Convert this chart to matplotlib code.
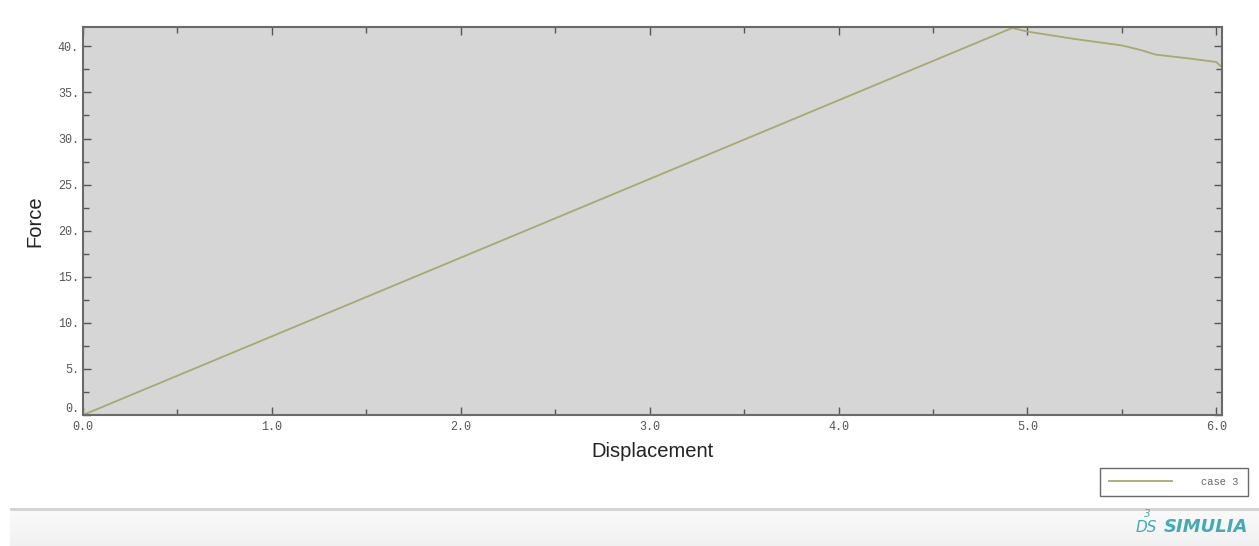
import numpy as np
import matplotlib
matplotlib.use("Agg")
import matplotlib.pyplot as plt
from matplotlib.ticker import MultipleLocator, FuncFormatter

# Force-displacement response, case 3
displacement = [0.0, 4.92, 5.0, 5.25, 5.5, 5.6, 5.68, 5.85, 6.0, 6.02]
force = [0.0, 42.0, 41.6, 40.8, 40.1, 39.6, 39.1, 38.7, 38.3, 37.9]
series_label = "case 3"

x_ticks = [0.0, 1.0, 2.0, 3.0, 4.0, 5.0, 6.0]
y_ticks = [0, 5, 10, 15, 20, 25, 30, 35, 40]

fig = plt.figure(figsize=(12.59, 5.46), dpi=100)
fig.patch.set_facecolor("white")

ax = fig.add_axes([83 / 1259, 1 - 415 / 546, 1139 / 1259, 388 / 546])
ax.set_facecolor("#d6d6d6")
line, = ax.plot(displacement, force, color="#a8a870", lw=1.3, label=series_label)

ax.set_xlim(0.0, 6.03)
ax.set_ylim(0.0, 42.1)
ax.set_xticks(x_ticks)
ax.set_yticks(y_ticks)
ax.xaxis.set_minor_locator(MultipleLocator(0.5))
ax.yaxis.set_minor_locator(MultipleLocator(2.5))
ax.xaxis.set_major_formatter(FuncFormatter(lambda v, p: f"{v:.1f}"))
ax.yaxis.set_major_formatter(FuncFormatter(lambda v, p: f"{int(round(v))}."))

for lab in ax.get_xticklabels() + ax.get_yticklabels():
    lab.set_fontfamily("Liberation Mono")
    lab.set_fontsize(8.5)
    lab.set_color("#555555")
# nudge the zero label upward as in the plot frame
ax.get_yticklabels()[0].set_verticalalignment("bottom")

ax.tick_params(which="both", direction="in", top=True, right=True,
               color="#555555", width=1.0)
ax.tick_params(which="major", length=6)
ax.tick_params(axis="x", which="major", pad=4)
ax.tick_params(axis="y", which="major", pad=3)
ax.tick_params(which="minor", length=4)
for sp in ax.spines.values():
    sp.set_color("#6a6a6a")
    sp.set_linewidth(1.5)

ax.set_xlabel("Displacement", fontsize=14.5, family="Liberation Sans",
              color="#222222", labelpad=7)
ax.set_ylabel("Force", fontsize=14.5, family="Liberation Sans",
              color="#222222", labelpad=10)

# Legend box
leg = fig.legend(handles=[line], loc="center",
                 bbox_to_anchor=(1174 / 1259, 1 - 482 / 546),
                 frameon=True, fancybox=False, edgecolor="#444444",
                 prop={"family": "Liberation Mono", "size": 7.5},
                 handlelength=6.0, handletextpad=2.8, borderpad=0.9,
                 borderaxespad=0, labelcolor="#666666")
leg.get_frame().set_linewidth(1.0)

# Bottom banner with a soft vertical gradient
banner = fig.add_axes([10 / 1259, 0, 1249 / 1259, 38 / 546])
grad = np.linspace(0.0, 1.0, 64).reshape(-1, 1)
banner.imshow(grad, aspect="auto", cmap="Greys", vmin=-0.5, vmax=12,
              extent=[0, 1, 0, 1], origin="upper")
banner.set_xlim(0, 1)
banner.set_ylim(0, 1)
banner.axhline(0.985, color="#d2d2d2", lw=2)
banner.axis("off")

fig.text(1206 / 1259, 1 - 527 / 546, "SIMULIA", color="#45aab2",
         fontsize=13, fontstyle="italic", fontweight="semibold",
         family="DejaVu Sans", ha="center", va="center")
fig.text(1146 / 1259, 1 - 528 / 546, "DS", color="#45aab2",
         fontsize=11, fontstyle="italic", ha="center", va="center")
fig.text(1147 / 1259, 1 - 514 / 546, "3", color="#45aab2",
         fontsize=7.5, fontstyle="italic", ha="center", va="center")

fig.savefig("out.png", dpi=100)
